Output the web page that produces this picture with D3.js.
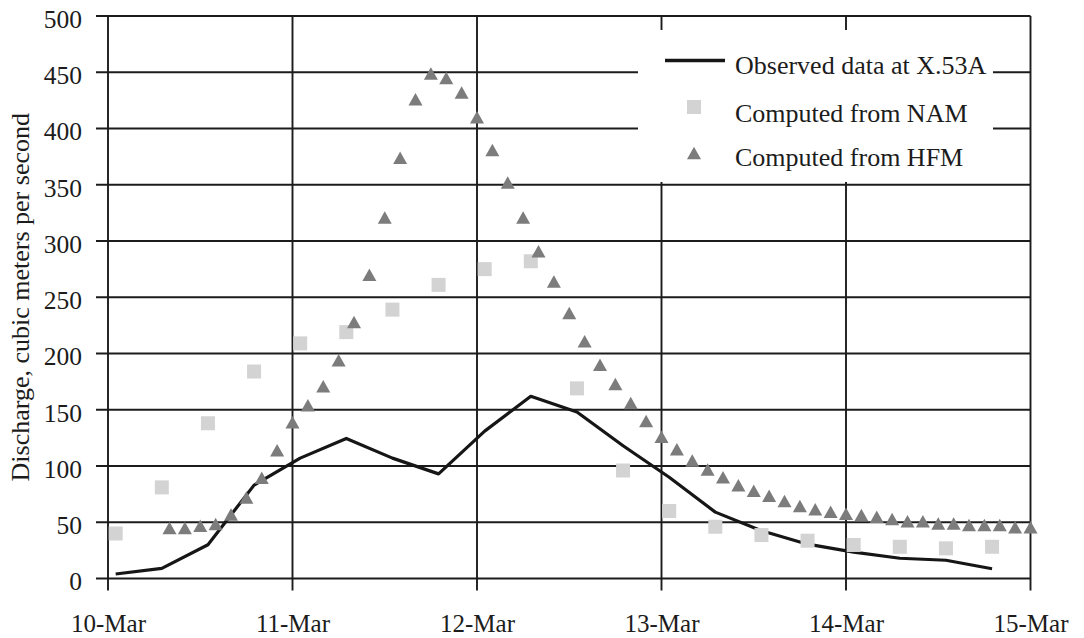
<!DOCTYPE html>
<html>
<head>
<meta charset="utf-8">
<script src="https://cdn.jsdelivr.net/npm/d3@7"></script>
<style>
  html, body { margin: 0; padding: 0; background: #fff; }
  svg { display: block; font-family: "Liberation Serif", "Times New Roman", serif; }
</style>
</head>
<body>
<svg id="chart" width="1084" height="638"></svg>
<script>
// ---- data (hours since 10-Mar 00:00) ----
const obsHours = [1, 7, 13, 19, 25, 31, 37, 43, 49, 55, 61, 67, 73, 79, 85, 91, 97, 103, 109, 115];
const observed = [4, 9, 30, 83, 107, 124.5, 107, 93, 131, 162, 148, 118, 90, 59, 42.5, 30.5, 23.5, 18, 16.2, 8.7];
const namHours = [1, 7, 13, 19, 25, 31, 37, 43, 49, 55, 61, 67, 73, 79, 85, 91, 97, 103, 109, 115];
const nam = [40, 81, 138, 184, 209, 219, 239, 261, 275, 282, 169, 96, 60, 46, 38.6, 33.6, 29.8, 28.2, 26.8, 28.2];
const hfmHours = [8, 10, 12, 14, 16, 18, 20, 22, 24, 26, 28, 30, 32, 34, 36, 38, 40, 42, 44, 46,
                  48, 50, 52, 54, 56, 58, 60, 62, 64, 66, 68, 70, 72, 74, 76, 78, 80, 82, 84, 86,
                  88, 90, 92, 94, 96, 98, 100, 102, 104, 106, 108, 110, 112, 114, 116, 118, 120];
const hfm = [45, 45, 47, 48.5, 57, 72, 89.5, 114, 139, 154, 171, 194, 228, 270, 321, 374, 426, 449, 445, 432,
             410, 381, 352, 321, 291, 264, 236, 211, 190, 173, 156, 140, 126, 115, 105, 97, 90, 83, 78, 73.5,
             69, 64.5, 61.5, 59.3, 57.5, 56.4, 55, 52.8, 51, 51, 49, 49, 47.5, 47.5, 47.5, 45.5, 45.5];
const xTickHours = [0, 24, 48, 72, 96, 120];
const xTickLabels = ["10-Mar", "11-Mar", "12-Mar", "13-Mar", "14-Mar", "15-Mar"];
const yTicks = [0, 50, 100, 150, 200, 250, 300, 350, 400, 450, 500];
const legendLabels = ["Observed data at X.53A", "Computed from NAM", "Computed from HFM"];
const yTitle = "Discharge, cubic meters per second";

// ---- layout ----
const svg = d3.select("#chart");
const pLeft = 108, pRight = 1030.5, pTop = 16, pBottom = 578.5;
const x = d3.scaleLinear().domain([0, 120]).range([pLeft, pRight]);
const y = d3.scaleLinear().domain([0, 500]).range([pBottom, pTop]);
const ink = "#1c1c1c";
const gridW = 1.9;
const tickLen = 12;

// gridlines (horizontal, extending left as ticks)
svg.append("g").selectAll("line").data(yTicks).join("line")
  .attr("x1", pLeft - tickLen).attr("x2", pRight)
  .attr("y1", d => y(d)).attr("y2", d => y(d))
  .attr("stroke", ink).attr("stroke-width", gridW);
// gridlines (vertical, extending down as ticks)
svg.append("g").selectAll("line").data(xTickHours).join("line")
  .attr("x1", d => x(d)).attr("x2", d => x(d))
  .attr("y1", pTop).attr("y2", pBottom + tickLen)
  .attr("stroke", ink).attr("stroke-width", gridW);

// axes (labels)
const xAxis = d3.axisBottom(x).tickValues(xTickHours)
  .tickFormat((d, i) => xTickLabels[i]).tickSize(tickLen).tickPadding(23.75);
const gx = svg.append("g").attr("transform", `translate(0,${pBottom})`).call(xAxis);
gx.select(".domain").remove();
gx.selectAll("line").remove();
gx.selectAll("text").attr("font-size", 25).attr("fill", ink)
  .attr("font-family", "Liberation Serif");

const yAxis = d3.axisLeft(y).tickValues(yTicks).tickSize(tickLen).tickPadding(14);
const gy = svg.append("g").attr("transform", `translate(${pLeft},0)`).call(yAxis);
gy.select(".domain").remove();
gy.selectAll("line").remove();
gy.selectAll("text").attr("font-size", 25.5).attr("fill", ink).attr("dy", "0.45em")
  .attr("font-family", "Liberation Serif");

// y title
svg.append("text")
  .attr("transform", `translate(29,${(pTop + pBottom) / 2}) rotate(-90)`)
  .attr("text-anchor", "middle")
  .attr("font-size", 26).attr("fill", ink)
  .text(yTitle);

// legend background (hides gridlines)
svg.append("rect").attr("x", 638).attr("y", 30).attr("width", 355).attr("height", 152)
  .attr("fill", "#fff");

// observed line
const obsData = obsHours.map((h, i) => [h, observed[i]]);
svg.append("path").datum(obsData)
  .attr("d", d3.line().x(d => x(d[0])).y(d => y(d[1])))
  .attr("fill", "none").attr("stroke", "#161616").attr("stroke-width", 3.2)
  .attr("stroke-linejoin", "round");

// NAM squares
const sq = 14;
svg.append("g").selectAll("rect").data(namHours.map((h, i) => [h, nam[i]])).join("rect")
  .attr("x", d => x(d[0]) - sq / 2).attr("y", d => y(d[1]) - sq / 2)
  .attr("width", sq).attr("height", sq).attr("fill", "#d3d3d3");

// HFM triangles (bbox centred)
const triW = 14, triH = 12.5;
const triPath = `M0,${-triH / 2}L${triW / 2},${triH / 2}L${-triW / 2},${triH / 2}Z`;
svg.append("g").selectAll("path").data(hfmHours.map((h, i) => [h, hfm[i]])).join("path")
  .attr("d", triPath)
  .attr("transform", d => `translate(${x(d[0])},${y(d[1])})`)
  .attr("fill", "#7c7c7c");

// legend contents
const lg = svg.append("g");
lg.append("line").attr("x1", 665).attr("x2", 725).attr("y1", 60.5).attr("y2", 60.5)
  .attr("stroke", "#161616").attr("stroke-width", 3.4);
lg.append("rect").attr("x", 694 - sq / 2).attr("y", 107 - sq / 2).attr("width", sq).attr("height", sq)
  .attr("fill", "#d3d3d3");
lg.append("path").attr("d", triPath).attr("transform", "translate(694,153)").attr("fill", "#7c7c7c");
const legendBaselines = [73.5, 121.5, 166];
lg.selectAll("text").data(legendLabels).join("text")
  .attr("x", 735).attr("y", (d, i) => legendBaselines[i])
  .attr("font-size", 26).attr("fill", ink)
  .text(d => d);
</script>
</body>
</html>
